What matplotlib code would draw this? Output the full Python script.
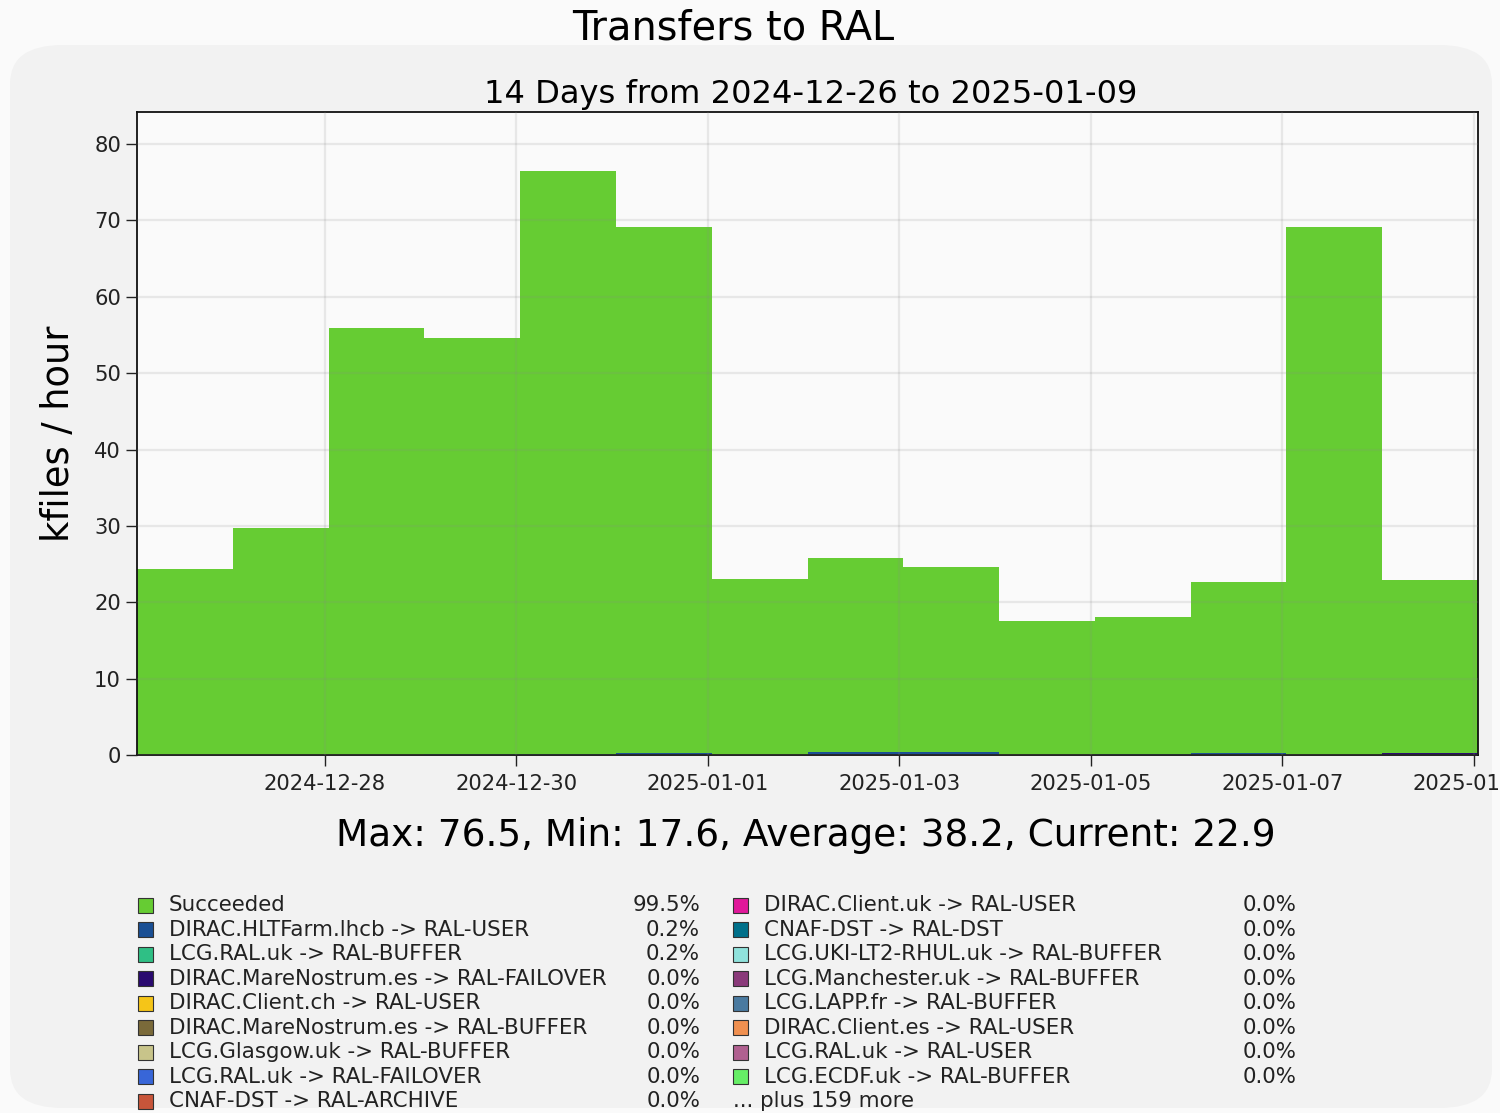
#!/usr/bin/env python3
"""Transfers to RAL - daily stacked bars, 14 days."""
from datetime import datetime, timedelta

import matplotlib

matplotlib.use("Agg")
import matplotlib.dates as mdates
import matplotlib.pyplot as plt
from matplotlib.patches import FancyBboxPatch, Rectangle

# --- data (kfiles / hour, one value per day) ---
start = datetime(2024, 12, 26)
# bins are shifted by one hour (local time vs UTC)
bin_shift = timedelta(hours=1)
days = [start + bin_shift + timedelta(days=i) for i in range(14)]

succeeded = [24.3, 29.7, 55.9, 54.4, 76.3, 68.9, 23.1, 25.4, 24.2, 17.6, 17.9, 22.4, 69.1, 22.7]
hltfarm = [0, 0, 0, 0, 0, 0.2, 0, 0.45, 0.45, 0, 0, 0.2, 0, 0]
ral_buffer = [0, 0, 0, 0.15, 0.15, 0, 0, 0, 0, 0, 0.15, 0, 0, 0]
marenostrum_failover = [0, 0, 0, 0, 0, 0, 0, 0, 0, 0, 0, 0, 0, 0.2]

legend_names = [
    "Succeeded",
    "DIRAC.HLTFarm.lhcb -> RAL-USER",
    "LCG.RAL.uk -> RAL-BUFFER",
    "DIRAC.MareNostrum.es -> RAL-FAILOVER",
    "DIRAC.Client.ch -> RAL-USER",
    "DIRAC.MareNostrum.es -> RAL-BUFFER",
    "LCG.Glasgow.uk -> RAL-BUFFER",
    "LCG.RAL.uk -> RAL-FAILOVER",
    "CNAF-DST -> RAL-ARCHIVE",
    "DIRAC.Client.uk -> RAL-USER",
    "CNAF-DST -> RAL-DST",
    "LCG.UKI-LT2-RHUL.uk -> RAL-BUFFER",
    "LCG.Manchester.uk -> RAL-BUFFER",
    "LCG.LAPP.fr -> RAL-BUFFER",
    "DIRAC.Client.es -> RAL-USER",
    "LCG.RAL.uk -> RAL-USER",
    "LCG.ECDF.uk -> RAL-BUFFER",
]
legend_pcts = ["99.5%", "0.2%", "0.2%"] + ["0.0%"] * 14
legend_colors = [
    "#66cc33", "#1a4f94", "#2fbf85", "#2a0a70", "#f5c518", "#7a6a3a",
    "#c8c48a", "#3866d8", "#c8553a", "#e0189a", "#00708a", "#90e2dc",
    "#8a3a7a", "#4a7aa0", "#f09050", "#b06090", "#66ee66",
]
n_more = 159
stats = "Max: 76.5, Min: 17.6, Average: 38.2, Current: 22.9"

W, H = 1500, 1113
fig = plt.figure(figsize=(W / 100, H / 100), dpi=100, facecolor="#fafafa")


def fx(px):
    return px / W


def fy(py):
    return 1 - py / H


# faint watermark panel behind everything
fig.patches.append(FancyBboxPatch(
    (fx(10), fy(1108)), fx(1482), (1108 - 45) / H,
    boxstyle="round,pad=0,rounding_size=0.035", transform=fig.transFigure,
    facecolor="#f2f2f2", edgecolor="none", zorder=-5))

ax = fig.add_axes([fx(137), fy(755), fx(1478 - 137), (755 - 112) / H])
ax.set_zorder(1)
ax.set_facecolor("#fafafa")

x = mdates.date2num(days)
bottom = [0.0] * len(days)
for vals, col in [(hltfarm, legend_colors[1]), (ral_buffer, legend_colors[2]),
                  (marenostrum_failover, legend_colors[3]), (succeeded, legend_colors[0])]:
    ax.bar(x, vals, width=1.0, bottom=bottom, align="edge", color=col,
           edgecolor="none", zorder=2)
    bottom = [b + v for b, v in zip(bottom, vals)]

ax.set_xlim(mdates.date2num(days[0]), mdates.date2num(days[-1] + timedelta(days=1)))
ax.set_ylim(0, 84.2)
tick_days = [start + timedelta(days=i) for i in range(2, 15, 2)]
ax.set_xticks(mdates.date2num(tick_days))
ax.xaxis.set_major_formatter(mdates.DateFormatter("%Y-%m-%d"))
ax.set_yticks(range(0, 81, 10))
ax.tick_params(axis="both", labelsize=15.2, length=8, width=1, colors="#222222")
ax.tick_params(axis="x", pad=6)
ax.grid(True, color="#888888", alpha=0.16, linewidth=1.6, zorder=3)
ax.set_axisbelow(False)
for s in ax.spines.values():
    s.set_linewidth(1.3)
    s.set_color("#111111")

ax.set_ylabel("kfiles / hour", fontsize=26.5, labelpad=12)

fig.text(fx(733), fy(28), "Transfers to RAL", fontsize=28.7, ha="center", va="center")
fig.text(fx(811), fy(95), "14 Days from 2024-12-26 to 2025-01-09", fontsize=23.1,
         ha="center", va="center")
fig.text(fx(806), fy(836), stats, fontsize=26.9, ha="center", va="center")

# legend: two columns drawn by hand
row_y = 905
row_h = 24.55
for i, (name, pct, col) in enumerate(zip(legend_names, legend_pcts, legend_colors)):
    c, r = divmod(i, 9)
    x0 = 138 if c == 0 else 733
    xr = 700 if c == 0 else 1297
    y = row_y + r * row_h
    fig.patches.append(Rectangle((fx(x0), fy(y + 7.5)), fx(15), 15 / H,
                                 transform=fig.transFigure, facecolor=col,
                                 edgecolor="#333333", linewidth=0.8))
    fig.text(fx(x0 + 31), fy(y), name, fontsize=15.4, va="center", color="#222222")
    fig.text(fx(xr), fy(y), pct, fontsize=15.4, va="center", ha="right", color="#222222")
fig.text(fx(733), fy(row_y + 8 * row_h), f"... plus {n_more} more", fontsize=15.4,
         va="center", color="#222222")

fig.savefig("out.png", dpi=100, facecolor=fig.get_facecolor())
